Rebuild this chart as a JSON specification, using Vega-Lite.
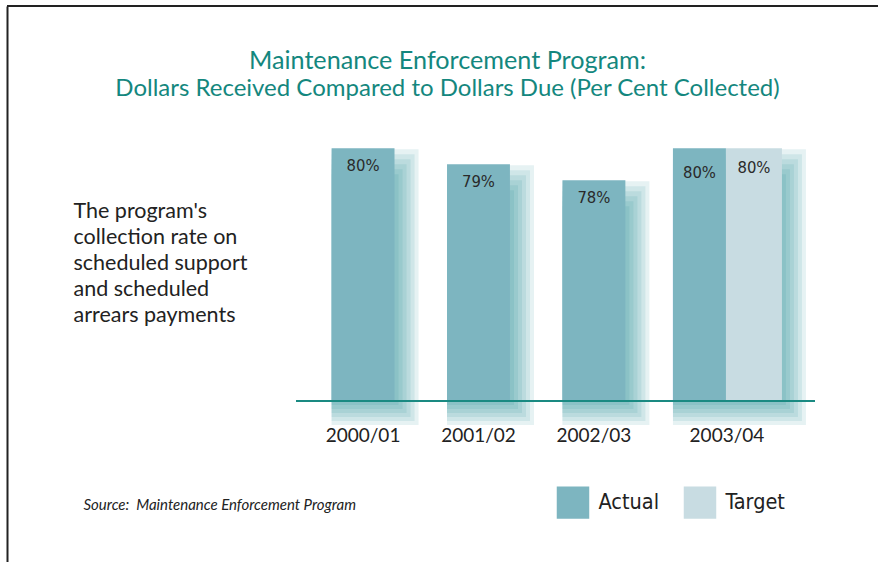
{
  "$schema": "https://vega.github.io/schema/vega-lite/v6.json",
  "width": 871,
  "height": 556,
  "autosize": {"type": "none"},
  "padding": {"left": 7, "top": 6, "right": 0, "bottom": 0},
  "background": "white",
  "config": {"view": {"stroke": null}, "font": "Lato"},
  "title": {
    "text": "Maintenance Enforcement Program:",
    "subtitle": "Dollars Received Compared to Dollars Due (Per Cent Collected)",
    "font": "Lato",
    "fontSize": 25.2,
    "fontWeight": "normal",
    "color": "#14877e",
    "subtitleFont": "Lato",
    "subtitleFontSize": 24,
    "subtitleFontWeight": "normal",
    "subtitleColor": "#14877e",
    "subtitlePadding": 2.7,
    "anchor": "middle",
    "frame": "group",
    "offset": -96,
    "dx": 5
  },
  "data": {
    "values": [
      {"year": "2000/01", "type": "Actual", "value": 0.80},
      {"year": "2001/02", "type": "Actual", "value": 0.79},
      {"year": "2002/03", "type": "Actual", "value": 0.78},
      {"year": "2003/04", "type": "Actual", "value": 0.80},
      {"year": "2003/04", "type": "Target", "value": 0.80}
    ]
  },
  "encoding": {
    "x": {
      "field": "year",
      "type": "nominal",
      "sort": null,
      "scale": {"domain": ["2000/01", "2001/02", "2002/03", "2003/04"], "range": [324.6, 733.8], "paddingInner": 0.455, "paddingOuter": 0, "round": false},
      "axis": {
        "orient": "bottom",
        "offset": -136,
        "domain": false,
        "ticks": false,
        "tickSize": 0,
        "labelPadding": 0,
        "labelBaseline": "top",
        "labelFont": "Lato",
        "labelFontSize": 19,
        "labelColor": "#222222",
        "labelAngle": 0,
        "labelOffset": {"condition": {"test": "datum.value === '2003/04'", "value": 17.6}, "value": 0},
        "title": "Source:\u00a0\u00a0Maintenance Enforcement Program",
        "titleFont": "Lato",
        "titleFontSize": 15,
        "titleFontStyle": "italic",
        "titleFontWeight": "normal",
        "titleColor": "#222222",
        "titleAlign": "left",
        "titleBaseline": "alphabetic",
        "titleX": 76,
        "titleY": 83
      }
    },
    "y": {
      "field": "value",
      "type": "quantitative",
      "scale": {"domain": [0.541375, 0.888875], "zero": false, "nice": false},
      "axis": {
        "orient": "left",
        "grid": false,
        "ticks": false,
        "labels": false,
        "domain": true,
        "domainColor": "#222222",
        "domainWidth": 2,
        "title": ["The program's", "collection rate on", "scheduled support", "and scheduled", "arrears payments"],
        "titleFont": "Lato",
        "titleFontSize": 21.5,
        "titleFontWeight": "normal",
        "titleColor": "#222222",
        "titleAngle": 0,
        "titleAlign": "left",
        "titleBaseline": "alphabetic",
        "titleLimit": 600,
        "titleX": 66,
        "titleY": 211,
        "titleLineHeight": 26.2
      }
    }
  },
  "layer": [
    {
      "mark": {"type": "rule", "color": "#222222", "strokeWidth": 2},
      "encoding": {"x": null, "y": {"datum": 0.888875}}
    },
    {"transform": [{"filter": "datum.year !== '2003/04'"}], "mark": {"type": "bar", "color": "#1f8792", "opacity": 0.11, "width": 87, "xOffset": 12, "yOffset": 1, "y2Offset": 24}, "encoding": {"y2": {"datum": 0.642}}},
    {"transform": [{"filter": "datum.year !== '2003/04'"}], "mark": {"type": "bar", "color": "#1f8792", "opacity": 0.11, "width": 83, "xOffset": 10, "yOffset": 6, "y2Offset": 20}, "encoding": {"y2": {"datum": 0.642}}},
    {"transform": [{"filter": "datum.year !== '2003/04'"}], "mark": {"type": "bar", "color": "#1f8792", "opacity": 0.11, "width": 79, "xOffset": 8, "yOffset": 11, "y2Offset": 16}, "encoding": {"y2": {"datum": 0.642}}},
    {"transform": [{"filter": "datum.year !== '2003/04'"}], "mark": {"type": "bar", "color": "#1f8792", "opacity": 0.11, "width": 75, "xOffset": 6, "yOffset": 16, "y2Offset": 12}, "encoding": {"y2": {"datum": 0.642}}},
    {"transform": [{"filter": "datum.year !== '2003/04'"}], "mark": {"type": "bar", "color": "#1f8792", "opacity": 0.11, "width": 71, "xOffset": 4, "yOffset": 21, "y2Offset": 8}, "encoding": {"y2": {"datum": 0.642}}},
    {"transform": [{"filter": "datum.year !== '2003/04'"}], "mark": {"type": "bar", "color": "#1f8792", "opacity": 0.11, "width": 67, "xOffset": 2, "yOffset": 26, "y2Offset": 4}, "encoding": {"y2": {"datum": 0.642}}},
    {"transform": [{"filter": "datum.year === '2003/04' && datum.type === 'Actual'"}], "mark": {"type": "bar", "color": "#1f8792", "opacity": 0.11, "width": 133, "xOffset": 30.1, "yOffset": 1, "y2Offset": 24}, "encoding": {"y2": {"datum": 0.642}}},
    {"transform": [{"filter": "datum.year === '2003/04' && datum.type === 'Actual'"}], "mark": {"type": "bar", "color": "#1f8792", "opacity": 0.11, "width": 129, "xOffset": 28.1, "yOffset": 6, "y2Offset": 20}, "encoding": {"y2": {"datum": 0.642}}},
    {"transform": [{"filter": "datum.year === '2003/04' && datum.type === 'Actual'"}], "mark": {"type": "bar", "color": "#1f8792", "opacity": 0.11, "width": 125, "xOffset": 26.1, "yOffset": 11, "y2Offset": 16}, "encoding": {"y2": {"datum": 0.642}}},
    {"transform": [{"filter": "datum.year === '2003/04' && datum.type === 'Actual'"}], "mark": {"type": "bar", "color": "#1f8792", "opacity": 0.11, "width": 121, "xOffset": 24.1, "yOffset": 16, "y2Offset": 12}, "encoding": {"y2": {"datum": 0.642}}},
    {"transform": [{"filter": "datum.year === '2003/04' && datum.type === 'Actual'"}], "mark": {"type": "bar", "color": "#1f8792", "opacity": 0.11, "width": 117, "xOffset": 22.1, "yOffset": 21, "y2Offset": 8}, "encoding": {"y2": {"datum": 0.642}}},
    {"transform": [{"filter": "datum.year === '2003/04' && datum.type === 'Actual'"}], "mark": {"type": "bar", "color": "#1f8792", "opacity": 0.11, "width": 113, "xOffset": 20.1, "yOffset": 26, "y2Offset": 4}, "encoding": {"y2": {"datum": 0.642}}},
    {
      "transform": [{"filter": "datum.year !== '2003/04'"}],
      "mark": {"type": "bar", "opacity": 1},
      "encoding": {
        "y2": {"datum": 0.642},
        "color": {
          "field": "type",
          "type": "nominal",
          "scale": {"domain": ["Actual", "Target"], "range": ["#7db5c0", "#c8dce2"]},
          "legend": {
            "title": null,
            "orient": "none",
            "legendX": 549.5,
            "legendY": 480,
            "direction": "horizontal",
            "columns": 2,
            "symbolType": "square",
            "symbolSize": 1056,
            "symbolStrokeWidth": 0,
            "symbolOpacity": 1,
            "labelFont": "DejaVu Sans Condensed",
            "labelFontSize": 21.5,
            "labelColor": "#222222",
            "labelOffset": 9,
            "labelLimit": 0,
            "columnPadding": 24,
            "padding": 0
          }
        }
      }
    },
    {
      "transform": [{"filter": "datum.year === '2003/04' && datum.type === 'Actual'"}],
      "mark": {"type": "bar", "opacity": 1, "width": 53, "xOffset": -9.9},
      "encoding": {
        "y2": {"datum": 0.642},
        "color": {"field": "type", "type": "nominal", "scale": {"domain": ["Actual", "Target"], "range": ["#7db5c0", "#c8dce2"]}}
      }
    },
    {
      "transform": [{"filter": "datum.year === '2003/04' && datum.type === 'Target'"}],
      "mark": {"type": "bar", "opacity": 1, "width": 56, "xOffset": 44.6},
      "encoding": {
        "y2": {"datum": 0.642},
        "color": {"field": "type", "type": "nominal", "scale": {"domain": ["Actual", "Target"], "range": ["#7db5c0", "#c8dce2"]}}
      }
    },
    {
      "mark": {"type": "rule", "color": "#1a8a82", "strokeWidth": 2, "xOffset": -35.6, "x2Offset": 74.2},
      "encoding": {
        "x": {"datum": "2000/01", "bandPosition": 0},
        "x2": {"datum": "2003/04", "bandPosition": 1},
        "y": {"datum": 0.642}
      }
    },
    {
      "transform": [{"filter": "datum.year !== '2003/04'"}],
      "mark": {"type": "text", "font": "DejaVu Sans Condensed", "fontSize": 16.5, "color": "#2a2a2a", "baseline": "middle", "dy": 18},
      "encoding": {"text": {"field": "value", "type": "quantitative", "format": ".0%"}}
    },
    {
      "transform": [{"filter": "datum.year === '2003/04' && datum.type === 'Actual'"}],
      "mark": {"type": "text", "font": "DejaVu Sans Condensed", "fontSize": 16.5, "color": "#2a2a2a", "baseline": "middle", "dy": 25, "xOffset": -9.9},
      "encoding": {"text": {"field": "value", "type": "quantitative", "format": ".0%"}}
    },
    {
      "transform": [{"filter": "datum.year === '2003/04' && datum.type === 'Target'"}],
      "mark": {"type": "text", "font": "DejaVu Sans Condensed", "fontSize": 16.5, "color": "#2a2a2a", "baseline": "middle", "dy": 20, "xOffset": 44.6},
      "encoding": {"text": {"field": "value", "type": "quantitative", "format": ".0%"}}
    }
  ]
}
